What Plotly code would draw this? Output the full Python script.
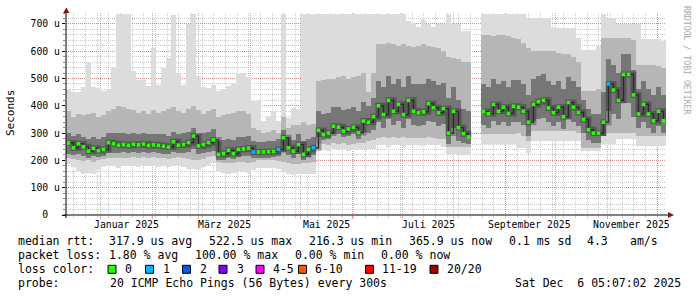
import plotly.graph_objects as go
import pandas as pd

# ---------------- data ----------------
start = pd.Timestamp("2024-12-11 05:07:02")
end = pd.Timestamp("2025-12-06 05:07:02")
BIN_DAYS = 3

median_rtt = [
    264, 246, 261, 250, 234, 244, 236, 240, 265, 261,
    256, 258, 255, 259, 257, 260, 255, 257, 255, 252,
    249, 268, 256, 258, 265, 289, 253, 258, 265, 275,
    222, 225, 237, 225, 240, 242, 245, 231, 231, 231,
    232, 233, 240, 283, 246, 234, 258, 222, 240, 246,
    310, 295, 300, 325, 322, 307, 315, 321, 302, 344,
    340, 360, 400, 368, 420, 380, 405, 368, 420, 380,
    375, 378, 408, 393, 375, 390, 300, 380, 320, 298,
    286, None, None, 379, 371, 405, 380, 395, 372, 398,
    395, 380, 340, 405, 415, 420, 392, 375, 395, 360,
    412, 395, 376, 350, 312, 300, 300, 340, 480, 458,
    420, 515, 515, 440, 370, 405, 370, 345, 380, 345,
]
median_loss = [
    0, 0, 0, 0, 0, 0, 0, 0, 0, 0,
    0, 0, 0, 0, 0, 0, 0, 0, 0, 0,
    0, 0, 0, 0, 0, 0, 0, 0, 0, 0,
    0, 0, 0, 0, 0, 0, 0, 1, 0, 0,
    0, 0, 1, 0, 0, 0, 0, 0, 0, 1,
    0, 0, 0, 0, 0, 0, 0, 0, 0, 0,
    0, 0, 0, 0, 0, 0, 0, 0, 0, 0,
    0, 0, 0, 0, 0, 0, 0, 0, 0, 0,
    0, 0, 0, 0, 0, 0, 0, 0, 0, 0,
    0, 0, 0, 0, 0, 0, 0, 0, 0, 0,
    0, 0, 0, 0, 0, 0, 0, 0, 1, 0,
    0, 0, 0, 0, 0, 0, 0, 0, 0, 0,
]
smoke_max = [
    460, 450, 450, 470, 560, 470, 465, 454, 460, 538,
    735, 735, 735, 526, 495, 495, 473, 613, 478, 540,
    576, 733, 515, 478, 700, 735, 509, 470, 466, 478,
    454, 460, 473, 480, 515, 520, 505, 417, 420, 344,
    360, 380, 344, 735, 356, 393, 390, 735, 735, 735,
    735, 735, 735, 735, 735, 735, 735, 735, 735, 735,
    735, 735, 735, 735, 735, 735, 735, 735, 710, 705,
    690, 715, 700, 690, 698, 698, 735, 698, 698, 674,
    674, None, None, 735, 735, 735, 735, 735, 735, 735,
    735, 735, 723, 723, 723, 723, 723, 686, 686, 686,
    686, 686, 649, 606, 606, 606, 620, 735, 723, 723,
    698, 698, 698, 698, 698, 643, 643, 643, 643, 637,
]
smoke_min = [
    186, 175, 160, 150, 155, 150, 165, 175, 180, 178,
    172, 180, 178, 180, 176, 182, 178, 180, 176, 180,
    175, 178, 182, 176, 170, 168, 165, 175, 185, 190,
    160, 155, 150, 155, 160, 158, 155, 165, 173, 173,
    173, 173, 170, 160, 150, 148, 150, 150, 150, 150,
    240, 238, 236, 240, 238, 240, 236, 238, 240, 240,
    240, 240, 255, 255, 250, 255, 255, 250, 255, 255,
    255, 252, 255, 255, 255, 250, 222, 222, 220, 220,
    220, None, None, 259, 259, 259, 259, 259, 259, 259,
    246, 246, 228, 271, 271, 271, 271, 271, 271, 271,
    271, 271, 271, 234, 234, 234, 234, 259, 259, 259,
    277, 277, 277, 277, 253, 253, 253, 253, 253, 253,
]
band_hi = [
    380, 360, 370, 365, 370, 375, 360, 365, 380, 390,
    400, 395, 390, 385, 375, 380, 370, 385, 375, 380,
    390, 395, 380, 375, 390, 400, 385, 370, 380, 390,
    360, 365, 370, 375, 380, 380, 370, 320, 310, 300,
    305, 310, 300, 360, 320, 330, 330, 340, 330, 335,
    490, 495, 500, 500, 505, 510, 500, 505, 510, 520,
    450, 520, 625, 625, 630, 625, 620, 625, 620, 615,
    620, 625, 620, 615, 610, 600, 580, 575, 570, 560,
    560, None, None, 660, 660, 655, 660, 660, 655, 650,
    645, 630, 610, 600, 600, 600, 600, 600, 595, 590,
    590, 580, 560, 454, 454, 454, 460, 650, 650, 650,
    650, 650, 650, 640, 550, 550, 550, 550, 545, 540,
]
band_lo = [
    210, 205, 200, 198, 200, 195, 200, 205, 210, 210,
    208, 210, 210, 212, 210, 212, 210, 212, 210, 210,
    205, 210, 212, 210, 205, 200, 200, 205, 212, 215,
    195, 190, 190, 192, 195, 195, 190, 195, 200, 200,
    200, 200, 198, 195, 190, 188, 188, 190, 192, 195,
    262, 260, 258, 262, 260, 262, 258, 260, 262, 265,
    270, 275, 283, 285, 283, 285, 283, 285, 283, 283,
    283, 283, 285, 283, 280, 278, 250, 250, 250, 250,
    250, None, None, 295, 295, 295, 295, 295, 295, 295,
    300, 290, 270, 307, 307, 307, 307, 307, 307, 307,
    307, 307, 300, 246, 246, 246, 246, 300, 300, 300,
    300, 300, 300, 300, 290, 290, 290, 290, 290, 290,
]
core_hi = [
    300, 290, 295, 285, 280, 285, 280, 285, 300, 300,
    300, 300, 298, 300, 298, 300, 295, 298, 295, 295,
    290, 305, 298, 300, 305, 320, 295, 300, 305, 315,
    270, 275, 280, 275, 285, 285, 290, 270, 268, 268,
    270, 270, 278, 310, 285, 275, 295, 270, 280, 285,
    380, 370, 375, 395, 395, 385, 390, 395, 380, 415,
    400, 430, 490, 470, 510, 480, 500, 470, 510, 480,
    480, 480, 500, 490, 475, 485, 430, 470, 420, 390,
    380, None, None, 480, 470, 500, 480, 490, 470, 495,
    495, 480, 440, 500, 510, 515, 490, 475, 490, 460,
    505, 490, 470, 420, 390, 370, 370, 450, 570, 550,
    520, 590, 590, 530, 460, 490, 460, 440, 470, 440,
]
core_lo = [
    225, 220, 225, 215, 210, 215, 212, 215, 228, 228,
    228, 230, 228, 230, 228, 230, 228, 230, 228, 225,
    222, 232, 228, 228, 230, 240, 225, 228, 232, 235,
    200, 202, 210, 205, 212, 215, 215, 210, 210, 210,
    210, 212, 215, 230, 218, 210, 225, 200, 212, 218,
    285, 275, 280, 295, 295, 285, 290, 295, 280, 305,
    300, 310, 340, 320, 350, 330, 345, 320, 350, 330,
    325, 330, 345, 340, 325, 335, 260, 320, 270, 265,
    260, None, None, 330, 320, 345, 330, 340, 325, 340,
    340, 330, 290, 345, 350, 355, 340, 325, 340, 315,
    350, 340, 325, 300, 275, 265, 265, 290, 380, 370,
    350, 410, 410, 360, 320, 340, 320, 300, 325, 300,
]

y_tick_vals = [0, 100, 200, 300, 400, 500, 600, 700]
y_tick_text = ["0\u00a0\u00a0", "100 u", "200 u", "300 u", "400 u", "500 u", "600 u", "700 u"]
x_label_dates = ["2025-01-16 12:00", "2025-03-16 12:00", "2025-05-16 12:00",
                 "2025-07-16 12:00", "2025-09-15 12:00", "2025-11-15 12:00"]
x_label_text = ["Januar 2025", "März 2025", "Mai 2025", "Juli 2025", "September 2025", "November 2025"]

loss_labels = ["0", "1", "2", "3", "4-5", "6-10", "11-19", "20/20"]
loss_colors = ["#26ff00", "#00b8ff", "#0059ff", "#7e00ff", "#ff00ff", "#ff5500", "#ff0000", "#a10000"]

# ---------------- geometry helpers ----------------
W, H = 697, 297
L, R, T, B = 66, 31, 13, 82
PW, PH = W - L - R, H - T - B


def px(x):
    return (x - L) / PW


def py(y):
    return (H - B - y) / PH


n = len(median_rtt)
dates = [start + pd.Timedelta(days=BIN_DAYS * (i + 0.5)) for i in range(n)]
bin_ms = BIN_DAYS * 86400000


def span(lo, hi):
    return [None if (a is None or b is None) else b - a for a, b in zip(lo, hi)]


fig = go.Figure()
for lo, hi, col in [(smoke_min, smoke_max, "#dcdcdc"),
                    (band_lo, band_hi, "#b6b6b6"),
                    (core_lo, core_hi, "#767676")]:
    fig.add_trace(go.Bar(x=dates, y=span(lo, hi), base=lo, width=bin_ms,
                         marker=dict(color=col, line=dict(width=0)),
                         hoverinfo="skip", showlegend=False))

# darker centre of the smoke around the median
fig.add_trace(go.Scatter(x=dates, y=median_rtt, mode="lines",
                         line=dict(color="rgba(30,30,30,0.35)", width=6, shape="hv"),
                         connectgaps=False, hoverinfo="skip", showlegend=False))
fig.add_trace(go.Scatter(x=dates, y=median_rtt, mode="lines",
                         line=dict(color="#2a2a2a", width=1.2, shape="hv"),
                         connectgaps=False, hoverinfo="skip", showlegend=False))
fig.add_trace(go.Scatter(x=dates, y=median_rtt, mode="markers",
                         marker=dict(symbol="square", size=3.6,
                                     color=[loss_colors[k] for k in median_loss],
                                     line=dict(width=0)),
                         hoverinfo="skip", showlegend=False))

month_starts = pd.date_range("2025-01-01", "2025-12-01", freq="MS")
weeks = pd.date_range("2024-12-16", "2025-12-06", freq="7D")
major_grid = "rgba(230,70,70,0.5)"
minor_grid = "rgba(140,140,140,0.45)"

fig.update_layout(
    width=W, height=H, autosize=False,
    margin=dict(l=L, r=R, t=T, b=B, pad=0),
    paper_bgcolor="white", plot_bgcolor="white",
    bargap=0, barmode="overlay", showlegend=False,
    font=dict(family="DejaVu Sans Mono", color="#000000"),
    xaxis=dict(type="date", range=[start, end],
               tickmode="array", tickvals=list(month_starts), ticktext=[""] * len(month_starts),
               showgrid=True, gridcolor=major_grid, griddash="1px,1px", gridwidth=1,
               ticks="outside", ticklen=3, tickcolor=major_grid,
               minor=dict(tickmode="array", tickvals=list(weeks), showgrid=True,
                          gridcolor=minor_grid, griddash="1px,1px",
                          ticks="outside", ticklen=2, tickcolor=minor_grid),
               showline=False, zeroline=False, layer="above traces", fixedrange=True),
    yaxis=dict(range=[0, 740], tickmode="array", tickvals=y_tick_vals, ticktext=y_tick_text,
               tickfont=dict(family="DejaVu Sans Mono", size=9.8, color="#000000"),
               showgrid=True, gridcolor=major_grid, griddash="1px,1px",
               ticks="outside", ticklen=3, tickcolor="#000000",
               minor=dict(dtick=20, showgrid=True, gridcolor=minor_grid, griddash="1px,1px",
                          ticks="outside", ticklen=2, tickcolor="#888888"),
               showline=False, zeroline=False, layer="above traces", fixedrange=True),
)

shapes = []
# axis lines
shapes.append(dict(type="line", xref="paper", yref="paper", x0=px(63), x1=px(670),
                   y0=py(215), y1=py(215), line=dict(color="#000000", width=1)))
shapes.append(dict(type="line", xref="paper", yref="paper", x0=px(66), x1=px(66),
                   y0=py(218), y1=py(10), line=dict(color="#000000", width=1)))
# arrows
shapes.append(dict(type="path", xref="paper", yref="paper",
                   path=f"M {px(63.3)} {py(13)} L {px(69.3)} {py(13)} L {px(66.3)} {py(7.5)} Z",
                   fillcolor="#8b1010", line=dict(width=0)))
shapes.append(dict(type="path", xref="paper", yref="paper",
                   path=f"M {px(668)} {py(212)} L {px(668)} {py(218)} L {px(674)} {py(215)} Z",
                   fillcolor="#8b1010", line=dict(width=0)))

LEG_FONT = dict(family="DejaVu Sans Mono", size=11.5, color="#000000")
ann = []


def text(x, y, s, font=LEG_FONT, anchor="left", **kw):
    ann.append(dict(xref="paper", yref="paper", x=px(x), y=py(y), text=s.replace("  ", " \u00a0"),
                    showarrow=False, xanchor=anchor, yanchor="middle", font=font, **kw))


# x tick labels
for d, s in zip(x_label_dates, x_label_text):
    ann.append(dict(xref="x", yref="paper", x=d, y=py(224.5), text=s, showarrow=False,
                    xanchor="center", yanchor="middle",
                    font=dict(family="DejaVu Sans Mono", size=9.8, color="#000000")))

# y title
text(10, 113, "Seconds", font=dict(family="DejaVu Sans Mono", size=11, color="#000000"),
     anchor="center", textangle=-90)
# watermark
text(687, 60, "RRDTOOL / TOBI OETIKER", font=dict(family="DejaVu Sans Mono", size=8.2, color="#a8a8a8"),
     anchor="center", textangle=90)

# legend line 1
for x, s in [(16, "median rtt:"), (107, "317.9 us avg"), (207, "522.5 us max"), (307, "216.3 us min"),
             (407, "365.9 us now"), (507, "0.1 ms sd"), (585, "4.3"), (628, "am/s")]:
    text(x, 241, s)
# legend line 2
for x, s in [(16, "packet loss:"), (107, "1.80 % avg"), (193, "100.00 % max"),
             (293, "0.00 % min"), (379, "0.00 % now")]:
    text(x, 255, s)
# legend line 3
text(16, 269, "loss color:")
sq_x = [108, 145.5, 182.5, 219, 256, 298.5, 365.5, 430]
lab_x = [123, 160.5, 197.5, 234.5, 270.5, 313, 380, 445]
for sx, lx, lab, col in zip(sq_x, lab_x, loss_labels, loss_colors):
    shapes.append(dict(type="rect", xref="paper", yref="paper",
                       x0=px(sx), x1=px(sx + 8), y0=py(265.3), y1=py(273.3),
                       fillcolor=col, line=dict(color="#000000", width=1)))
    text(lx, 269, lab)
# legend line 4
text(16, 283, "probe:")
text(108, 283, "20 ICMP Echo Pings (56 Bytes) every 300s")
text(513, 283, "Sat Dec  6 05:07:02 2025")

fig.update_layout(shapes=shapes, annotations=ann)
fig.write_html("out.html", config={"displayModeBar": False, "staticPlot": True})
